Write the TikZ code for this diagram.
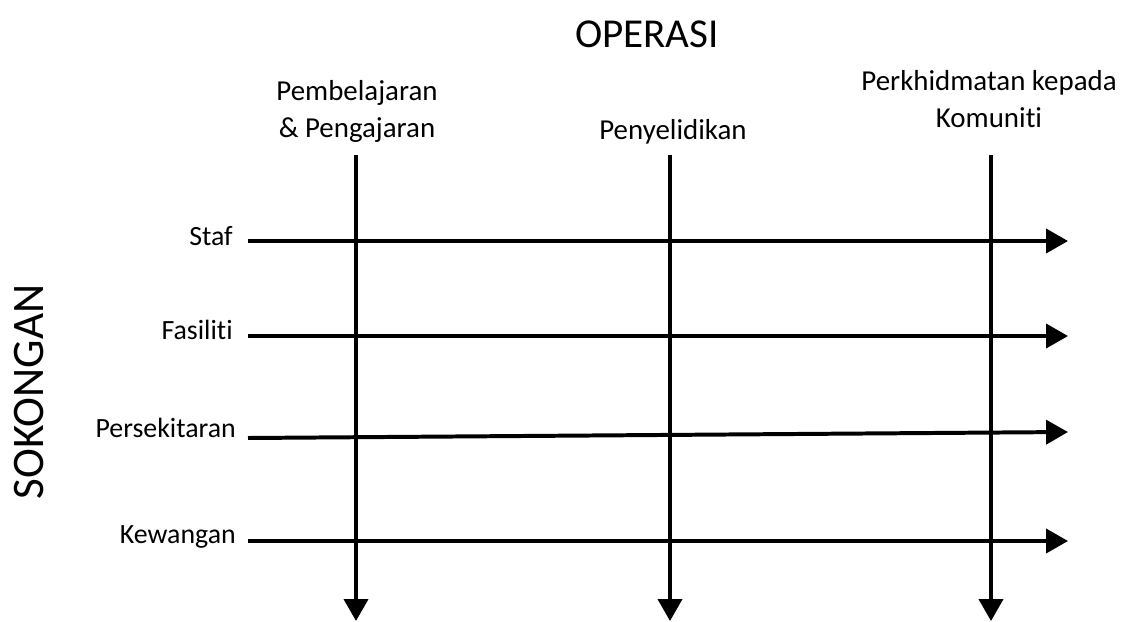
\documentclass[tikz,border=0pt]{standalone}
\usepackage{fontspec}
\setmainfont{Carlito}[Ligatures=NoCommon]
\usetikzlibrary{arrows.meta}

\tikzset{
  axisline/.style={line width=3pt, -{Triangle[length=16.5pt, width=18pt]}},
  headlabel/.style={inner sep=0pt, align=center, font=\fontsize{21.8}{27.5}\selectfont},
  rowlabel/.style={inner sep=0pt, anchor=base east, font=\fontsize{21}{26}\selectfont},
}

\begin{document}
\begin{tikzpicture}[x=0.0265cm, y=-0.0265cm]
    \useasboundingbox (0,0) rectangle (1123,621);

    % titles
    \node[inner sep=0pt, anchor=base, font=\fontsize{31}{36}\selectfont] (operasi) at (647,47) {OPERASI};
    \node[inner sep=0pt, anchor=base, rotate=90, font=\fontsize{34}{38}\selectfont] (sokongan) at (43,392) {SOKONGAN};

    % column heads
    \node[headlabel, anchor=base] (pp) at (357,137) {Pembelajaran\\\& Pengajaran};
    \node[headlabel, anchor=base] (penyelidikan) at (673,139) {Penyelidikan};
    \node[headlabel, anchor=base] (komuniti) at (989,127) {Perkhidmatan kepada\\Komuniti};

    % row labels
    \node[rowlabel] (staf) at (233,245) {Staf};
    \node[rowlabel] (fasiliti) at (233,339) {Fasiliti};
    \node[rowlabel] (persekitaran) at (236,437) {Persekitaran};
    \node[rowlabel] (kewangan) at (236,543) {Kewangan};

    % end points
    \coordinate (v1s) at (356,155);  \coordinate (v1e) at (356,621);
    \coordinate (v2s) at (670,155);  \coordinate (v2e) at (670,621);
    \coordinate (v3s) at (991,155);  \coordinate (v3e) at (991,621);
    \coordinate (h1s) at (248,241);  \coordinate (h1e) at (1068,241);
    \coordinate (h2s) at (248,336);  \coordinate (h2e) at (1068,336);
    \coordinate (h3s) at (248,438);  \coordinate (h3e) at (1068,432);
    \coordinate (h4s) at (248,541);  \coordinate (h4e) at (1068,541);

    \draw[axisline] (v1s) -- (v1e);
    \draw[axisline] (v2s) -- (v2e);
    \draw[axisline] (v3s) -- (v3e);
    \draw[axisline] (h1s) -- (h1e);
    \draw[axisline] (h2s) -- (h2e);
    \draw[axisline] (h3s) -- (h3e);
    \draw[axisline] (h4s) -- (h4e);
\end{tikzpicture}
\end{document}
